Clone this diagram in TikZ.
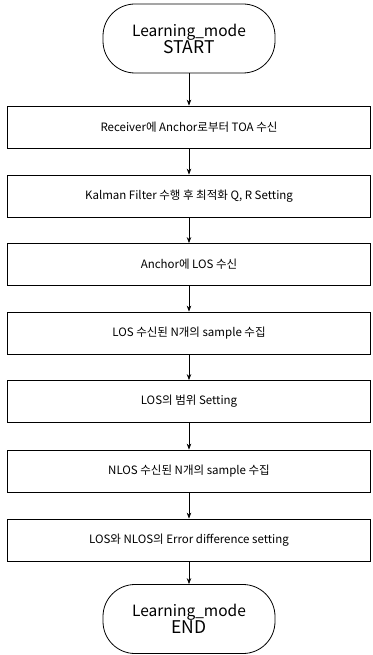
\documentclass[tikz,border=0pt]{standalone}
\usepackage{fontspec}
\setmainfont{Noto Sans CJK KR}
\usetikzlibrary{arrows.meta}
\begin{document}
\begin{tikzpicture}[x=1pt,y=-1pt,
  stepbox/.style={draw, line width=0.8pt, minimum width=363pt, minimum height=42pt, inner sep=0pt, font=\fontsize{11.5}{13}\selectfont},
  term/.style={draw, line width=0.8pt, rounded corners=32pt, minimum width=172pt, minimum height=69pt, inner sep=0pt, align=center, font=\fontsize{15.5}{17}\selectfont},
  arr/.style={line width=0.7pt, -{Stealth[length=6pt,width=4.5pt]}}]
\useasboundingbox (0,0) rectangle (372,655);
\node[term] (s) at (189,38.5) {Learning\_mode\\[0pt]{\fontsize{17.5}{19}\selectfont START}};
\node[stepbox] (b1) at (189,127) {Receiver에 Anchor로부터 TOA 수신};
\node[stepbox] (b2) at (189,196) {Kalman Filter 수행 후 최적화 Q, R Setting};
\node[stepbox] (b3) at (189,264.5) {Anchor에 LOS 수신};
\node[stepbox] (b4) at (189,333) {LOS 수신된 N개의 sample 수집};
\node[stepbox] (b5) at (189,401.5) {LOS의 범위 Setting};
\node[stepbox] (b6) at (189,471) {NLOS 수신된 N개의 sample 수집};
\node[stepbox] (b7) at (189,540) {LOS와 NLOS의 Error difference setting};
\node[term] (e) at (189,619) {Learning\_mode\\[0pt]{\fontsize{17.5}{19}\selectfont END}};
\draw[arr] (s) -- (b1);
\draw[arr] (b1) -- (b2);
\draw[arr] (b2) -- (b3);
\draw[arr] (b3) -- (b4);
\draw[arr] (b4) -- (b5);
\draw[arr] (b5) -- (b6);
\draw[arr] (b6) -- (b7);
\draw[arr] (b7) -- (e);
\end{tikzpicture}
\end{document}
